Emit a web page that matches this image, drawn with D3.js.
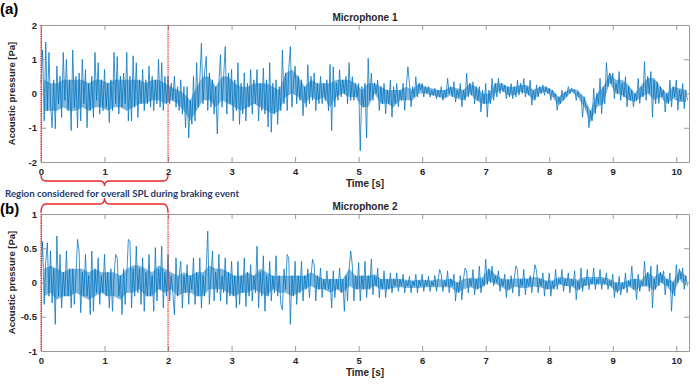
<!DOCTYPE html>
<html><head><meta charset="utf-8">
<script src="https://cdn.jsdelivr.net/npm/d3@7"></script>
<style>
html,body{margin:0;padding:0;background:#fff;}
svg{display:block;}
</style></head>
<body>
<svg id="chart" width="698" height="386"></svg>
<script>
// ---------------- DATA ----------------
const sampleStep = 0.025; // seconds between listed signal values
const bandStep = 0.1;     // seconds between listed dense-core band values
const mic1Values = [
 0.3,1.27,-0.8,1.5, -0.5,1.2,-0.3,-1.0, 0.4,-1.03,0.8,-0.3, 0.5,-0.7,1.2,-0.2, 1.0,-0.5,0.4,-1.08,
 1.27,-0.4,0.5,-1.0, 0.6,-0.8,1.0,-0.3, 0.7,-1.0,0.3,-0.5, 0.5,-0.7,1.2,-0.2, 0.9,-0.6,0.4,-0.5,
 0.7,-0.4,0.3,-0.85, 0.4,-0.5,1.2,-0.3, 1.08,-0.6,0.5,-0.4, 0.6,-0.3,1.2,-0.8, 0.5,-0.8,1.1,-0.4,
 0.9,-0.7,0.4,-0.3, 0.7,-0.5,0.4,-0.3, 0.8,-0.4,0.5,-0.5, 0.4,-0.3,1.0,-0.4, 0.9,-0.5,0.5,-0.3,
 0.5,-0.3,0.3,-0.2, 0.5,-0.4,0.2,-0.5, 0.4,-0.6,0.2,-1.0, 0.2,-1.3,-0.2,-0.9, 0.5,-0.8,0.9,-0.4,
 0.4,1.47,-0.3,0.6, 1.08,-0.5,0.6,-0.4, 0.4,-0.6,0.2,-1.18, 0.3,1.13,-0.4,0.5, 1.37,-0.6,0.6,-0.3,
 0.7,-0.8,0.4,-0.5, 0.9,-0.9,0.3,-0.6, 0.6,-0.8,0.3,-0.4, 0.7,-0.6,0.4,-0.3, 0.7,-0.8,0.3,-0.5,
 0.74,-0.6,0.4,-0.98, 0.9,-1.13,0.3,-0.6, 0.4,-0.9,0.2,-0.5, 1.27,-0.3,0.6,-0.5, 0.7,1.37,-0.4,0.3,
 0.8,-0.3,0.5,-0.2, 0.4,-0.65,0.2,-0.4, 0.84,-0.3,0.5,-0.2, 0.6,-0.5,0.3,-0.3, 0.5,-0.3,0.3,-0.2,
 0.4,-0.5,0.85,-1.08, 0.78,-0.4,0.3,-0.2, 0.69,-0.1,0.4,0.0, 0.5,-0.3,0.9,-0.2, 0.49,-0.2,0.3,-0.1,
 0.29,-1.67,0.2,-0.4, 0.3,-1.3,1.03,-0.2, 0.59,-0.2,0.3,0.0, 0.39,-0.5,0.2,-0.3, 0.29,-0.59,0.1,-0.3,
 0.39,-0.69,0.2,-0.3, 0.29,-0.39,0.1,-0.2, 0.3,-0.49,0.2,0.78, 0.29,-0.39,0.2,-0.1, 0.49,-0.1,0.3,0.1,
 0.29,-0.1,0.2,0.0, 0.2,-0.1,0.1,-0.05, 0.15,-0.15,0.1,-0.1, 0.2,-0.2,0.1,-0.1, 0.44,0.0,0.2,-0.1,
 0.34,-0.25,0.1,-0.1, 0.29,-0.39,0.1,-0.2, 0.59,-0.1,0.3,-0.05, 0.34,-0.3,0.2,-0.2, 0.2,-0.54,0.1,-0.3,
 0.29,-0.69,0.1,-0.3, 0.44,-0.2,0.3,-0.1, 0.44,0.0,0.3,0.05, 0.25,-0.15,0.2,-0.1, 0.29,-0.15,0.2,-0.1,
 0.39,-0.05,0.3,0.0, 0.44,-0.1,0.2,-0.05, 0.39,-0.34,0.1,-0.2, 0.25,-0.1,0.2,0.0, 0.25,-0.05,0.2,0.0,
 0.15,-0.2,0.1,-0.1, 0.0,-0.49,-0.1,-0.3, 0.1,-0.2,0.05,-0.1, 0.2,0.0,0.15,0.05, 0.1,-0.2,0.05,-0.1,
 -0.05,-0.69,-0.1,-0.4, -0.39,-1.0,-0.5,-0.8, 0.15,-0.59,0.0,-0.3, 0.44,-0.59,0.2,-0.3, 0.9,0.2,0.6,0.3,
 0.59,-0.15,0.3,0.0, 0.64,-0.2,0.3,-0.1, 0.49,-0.39,0.2,-0.2, 0.1,-0.39,0.0,-0.2, 0.44,-0.29,0.2,-0.1,
 0.93,-0.2,0.5,0.0, 0.64,-0.69,0.4,-0.3, 0.34,-0.29,0.2,-0.1, 0.1,-0.54,0.0,-0.3, 0.39,-0.39,0.2,-0.1,
 0.39,-0.49,0.1,-0.2, 0.29,-0.44,0.1,-0.2
];
const mic1CoreHi = [
 0.4,0.3,0.3,0.4,0.4,0.4,0.4,0.3,0.4,0.4, 0.3,0.4,0.4,0.4,0.4,0.4,0.3,0.4,0.4,0.3,
 0.2,0.1,0.0,-0.2,0.2,0.5,0.5,0.2,0.5,0.5, 0.3,0.2,0.2,0.3,0.3,0.3,0.2,0.1,0.6,0.7,
 0.5,0.2,0.4,0.3,0.3,0.3,0.4,0.4,0.4,0.3, 0.1,0.3,0.3,0.2,0.1,0.1,0.1,0.2,0.1,0.3,
 0.2,0.15,0.1,0.1,0.2,0.15,0.1,0.3,0.2,0.0, 0.0,0.3,0.3,0.2,0.2,0.25,0.25,0.1,0.2,0.2,
 0.1,-0.1,0.05,0.15,0.1,-0.1,-0.5,0.0,0.2,0.6, 0.4,0.4,0.25,0.0,0.25,0.45,0.45,0.2,0.0,0.2,
 0.15,0.1
];
const mic1CoreLo = [
 -0.5,-0.5,-0.5,-0.4,-0.5,-0.5,-0.4,-0.5,-0.4,-0.4, -0.5,-0.4,-0.4,-0.5,-0.4,-0.3,-0.3,-0.2,-0.2,-0.3,
 -0.2,-0.3,-0.5,-0.8,-0.5,-0.2,-0.2,-0.4,-0.2,-0.3, -0.4,-0.5,-0.4,-0.3,-0.4,-0.5,-0.6,-0.5,-0.1,0.0,
 -0.1,-0.3,-0.1,-0.2,-0.1,-0.4,-0.1,0.0,-0.1,-0.1, -0.4,-0.4,0.0,-0.3,-0.3,-0.4,-0.2,-0.2,-0.2,0.0,
 0.0,-0.05,-0.1,-0.15,-0.05,-0.15,-0.2,0.0,-0.2,-0.3, -0.3,0.0,0.1,-0.05,-0.05,0.05,0.0,-0.2,0.0,0.05,
 -0.1,-0.35,-0.15,0.05,-0.1,-0.4,-0.85,-0.4,-0.3,0.3, 0.0,-0.05,-0.2,-0.25,-0.1,0.0,-0.2,-0.1,-0.3,-0.15,
 -0.25,-0.25
];
const mic2Values = [
 0.1,0.6,-0.32,0.3, 0.58,-0.2,0.46,-0.3, 0.2,-0.61,0.68,-0.2, 0.41,-0.37,0.15,-0.2, 0.46,-0.2,0.2,-0.37,
 0.2,-0.32,0.1,0.63, 0.46,-0.44,0.15,-0.2, 0.41,-0.2,0.1,-0.47, 0.46,-0.42,0.2,-0.15, 0.36,-0.32,0.1,-0.15,
 0.41,-0.2,0.15,-0.37, 0.2,-0.42,0.1,0.41, 0.36,-0.2,0.1,-0.47, 0.2,-0.32,0.1,0.63, 0.6,-0.37,0.2,-0.2,
 0.53,-0.15,0.2,-0.32, 0.36,-0.42,0.15,-0.2, 0.41,-0.2,0.1,-0.42, 0.51,-0.27,0.2,-0.1, 0.53,-0.37,0.15,-0.2,
 0.41,-0.27,0.1,-0.15, -0.47,0.36,-0.2,0.1, 0.31,-0.37,0.1,-0.15, 0.26,-0.32,0.1,-0.1, 0.36,-0.32,0.15,-0.2,
 0.36,-0.37,0.1,-0.2, 0.2,0.75,-0.32,0.1, 0.46,-0.27,0.15,-0.15, 0.41,-0.27,0.1,-0.15, 0.36,-0.32,0.15,-0.2,
 0.31,-0.2,0.1,-0.37, 0.31,-0.32,0.1,-0.15, 0.36,-0.35,0.15,-0.2, 0.26,-0.27,0.1,-0.15, 0.53,-0.37,0.15,-0.2,
 0.39,-0.42,0.1,-0.2, 0.31,-0.27,0.1,-0.15, 0.39,-0.2,0.1,-0.32, -0.4,0.2,-0.1,0.41, 0.36,-0.61,0.1,-0.2,
 0.31,-0.32,0.1,-0.15, 0.31,-0.27,0.1,-0.1, 0.2,-0.22,0.1,0.34, 0.26,-0.27,0.1,-0.1, 0.21,-0.22,0.05,-0.1,
 0.17,-0.1,0.05,-0.37, 0.17,-0.22,0.05,-0.1, 0.21,-0.15,0.05,-0.42, 0.1,-0.27,0.2,0.46, 0.26,-0.27,0.1,-0.1,
 0.29,-0.27,0.1,-0.1, 0.31,-0.22,0.1,-0.1, 0.34,-0.18,0.1,-0.05, 0.21,-0.22,0.05,-0.1, 0.17,-0.22,0.05,-0.1,
 0.14,-0.15,0.05,-0.05, 0.14,-0.13,0.05,-0.05, 0.12,-0.15,0.02,-0.05, 0.09,-0.15,0.02,-0.05, 0.12,-0.15,0.03,-0.05,
 0.12,-0.13,0.03,-0.05, 0.09,-0.13,0.02,-0.05, 0.1,-0.13,0.03,0.19, 0.12,-0.13,0.03,-0.05, 0.17,-0.15,0.05,-0.05,
 0.12,-0.27,0.0,-0.15, 0.1,-0.25,0.05,0.21, 0.17,-0.15,0.05,-0.05, 0.19,-0.18,0.05,-0.1, 0.24,-0.15,0.05,-0.05,
 0.34,-0.03,0.2,0.0, 0.24,-0.05,0.1,0.0, 0.17,-0.13,0.05,-0.05, 0.12,-0.22,0.05,-0.1, 0.1,-0.15,0.05,0.24,
 0.19,-0.2,0.05,-0.05, 0.19,-0.18,0.05,-0.05, 0.1,-0.15,0.05,0.26, 0.17,-0.15,0.05,-0.05, 0.14,-0.2,0.02,-0.1,
 0.14,-0.2,0.02,-0.1, 0.19,-0.1,0.05,-0.02, 0.19,-0.13,0.05,-0.05, 0.14,-0.15,0.05,-0.05, 0.17,-0.25,0.02,-0.1,
 0.21,-0.13,0.05,-0.05, 0.19,-0.1,0.05,-0.02, 0.21,-0.1,0.05,-0.02, 0.19,-0.1,0.05,-0.02, 0.14,-0.1,0.03,-0.05,
 0.12,-0.22,0.0,-0.15, 0.09,-0.18,0.0,-0.1, 0.14,-0.15,0.02,-0.05, 0.24,-0.1,0.05,-0.25, 0.12,-0.13,0.02,-0.05,
 0.31,-0.05,0.15,-0.13, 0.24,-0.37,0.05,-0.1, 0.26,-0.05,0.15,0.0, 0.17,-0.18,0.05,-0.05, 0.14,-0.42,0.0,-0.2,
 0.26,0.0,0.2,0.05, 0.21,-0.1,0.1,-0.05
];
const mic2CoreHi = [
 0.2,0.25,0.2,0.15,0.2,0.2,0.2,0.15,0.2,0.15, 0.15,0.15,0.1,0.2,0.25,0.25,0.2,0.15,0.25,0.2,
 0.15,0.1,0.15,0.1,0.15,0.15,0.25,0.2,0.2,0.15, 0.1,0.1,0.15,0.1,0.2,0.15,0.1,0.1,0.1,0.1,
 0.1,0.1,0.15,0.1,0.05,0.05,0.05,0.05,0.2,0.1, 0.1,0.1,0.12,0.05,0.05,0.06,0.05,0.04,0.03,0.04,
 0.04,0.03,0.05,0.04,0.06,0.0,0.05,0.07,0.06,0.08, 0.2,0.12,0.06,0.04,0.06,0.06,0.06,0.08,0.07,0.03,
 0.03,0.08,0.07,0.06,0.04,0.08,0.08,0.08,0.08,0.05, 0.0,0.0,0.04,0.06,0.04,0.15,0.08,0.15,0.06,0.02,
 0.18,0.1
];
const mic2CoreLo = [
 -0.2,-0.15,-0.25,-0.2,-0.2,-0.15,-0.2,-0.25,-0.2,-0.15, -0.2,-0.2,-0.25,-0.15,-0.15,-0.1,-0.2,-0.2,-0.1,-0.15,
 -0.1,-0.2,-0.15,-0.15,-0.2,-0.2,-0.1,-0.1,-0.1,-0.15, -0.2,-0.15,-0.15,-0.1,-0.15,-0.2,-0.1,-0.15,-0.15,-0.2,
 -0.15,-0.1,-0.05,-0.1,-0.1,-0.15,-0.1,-0.15,-0.05,-0.1, -0.1,-0.1,-0.05,-0.1,-0.1,-0.08,-0.07,-0.08,-0.08,-0.08,
 -0.07,-0.07,-0.07,-0.07,-0.07,-0.15,-0.1,-0.07,-0.1,-0.07, 0.02,-0.02,-0.07,-0.12,-0.06,-0.08,-0.08,-0.06,-0.07,-0.1,
 -0.1,-0.03,-0.05,-0.06,-0.12,-0.05,-0.03,-0.03,-0.03,-0.05, -0.14,-0.1,-0.06,-0.12,-0.06,-0.06,-0.12,0.0,-0.06,-0.18,
 0.04,-0.05
];
const timeDomain = [0, 10.2];
const timeTicks = [0,1,2,3,4,5,6,7,8,9,10];
const mic1Domain = [-2, 2];
const mic1Ticks = [-2,-1,0,1,2];
const mic2Domain = [-1, 1];
const mic2Ticks = [-1,-0.5,0,0.5,1];
const regionMarkers = [0, 2];
const panelTitles = ["Microphone 1", "Microphone 2"];
const panelLetters = ["(a)", "(b)"];
const xLabel = "Time [s]";
const yLabel = "Acoustic pressure [Pa]";
const regionNote = "Region considered for overall SPL during braking event";

// ---------------- DRAW ----------------
const svg = d3.select("#chart");
const left = 41, right = 689;
const panels = [
  {values: mic1Values, hi: mic1CoreHi, lo: mic1CoreLo, domain: mic1Domain, ticks: mic1Ticks, top: 25, bottom: 162, title: panelTitles[0], letter: panelLetters[0], letterY: 14},
  {values: mic2Values, hi: mic2CoreHi, lo: mic2CoreLo, domain: mic2Domain, ticks: mic2Ticks, top: 214, bottom: 351, title: panelTitles[1], letter: panelLetters[1], letterY: 214}
];
const axisColor = "#9a9a9a";
const textColor = "#262626";
const tickFont = "'Liberation Sans', Arial, sans-serif";

const x = d3.scaleLinear().domain(timeDomain).range([left, right]);

panels.forEach((p, pi) => {
  const y = d3.scaleLinear().domain(p.domain).range([p.bottom, p.top]);
  const g = svg.append("g");

  // dense core of the signal
  const band = p.hi.map((h, i) => ({t: (i + 0.5) * bandStep, hi: h, lo: p.lo[i]}));
  g.append("path").datum(band)
    .attr("d", d3.area().x(d => x(d.t)).y0(d => y(d.lo)).y1(d => y(d.hi)).curve(d3.curveLinear))
    .attr("fill", "#0072BD").attr("opacity", 0.5);

  // signal trace
  const line = d3.line().x((d, i) => x(i * sampleStep)).y(d => y(d));
  g.append("path").datum(p.values)
    .attr("d", line)
    .attr("fill", "none")
    .attr("stroke", "#0072BD")
    .attr("stroke-opacity", 0.85)
    .attr("stroke-width", 0.9)
    .attr("stroke-linejoin", "miter");

  // axes
  const ax = (gen, tr, labels) => {
    const a = g.append("g").attr("transform", tr).call(gen);
    a.select(".domain").attr("stroke", axisColor).attr("stroke-width", 1);
    a.selectAll(".tick line").attr("stroke", axisColor);
    a.selectAll("text").attr("fill", textColor).attr("font-family", tickFont)
      .attr("font-size", "9.5px").attr("font-weight", "bold");
    if (!labels) a.selectAll("text").remove();
    return a;
  };
  const fmt = d => String(d);
  ax(d3.axisBottom(x).tickValues(timeTicks).tickSize(-5).tickSizeOuter(0).tickPadding(6).tickFormat(fmt), `translate(0,${p.bottom})`, true);
  ax(d3.axisTop(x).tickValues(timeTicks).tickSize(-5).tickSizeOuter(0), `translate(0,${p.top})`, false);
  ax(d3.axisLeft(y).tickValues(p.ticks).tickSize(-5).tickSizeOuter(0).tickPadding(4).tickFormat(fmt), `translate(${left},0)`, true);
  ax(d3.axisRight(y).tickValues(p.ticks).tickSize(-5).tickSizeOuter(0), `translate(${right},0)`, false);

  // region markers
  g.selectAll(".marker").data(regionMarkers).enter().append("line")
    .attr("x1", d => x(d)).attr("x2", d => x(d))
    .attr("y1", p.top).attr("y2", p.bottom)
    .attr("stroke", "#e8262a").attr("stroke-width", 1.3)
    .attr("stroke-dasharray", "1.2,1");

  // titles
  g.append("text").attr("x", (left + right) / 2).attr("y", p.top - 4)
    .attr("text-anchor", "middle").attr("font-family", tickFont)
    .attr("font-size", "10px").attr("font-weight", "bold").attr("fill", textColor)
    .text(p.title);
  g.append("text").attr("x", (left + right) / 2).attr("y", p.bottom + 25)
    .attr("text-anchor", "middle").attr("font-family", tickFont)
    .attr("font-size", "10px").attr("font-weight", "bold").attr("fill", textColor)
    .text(xLabel);
  g.append("text")
    .attr("transform", `translate(15,${(p.top + p.bottom) / 2}) rotate(-90)`)
    .attr("text-anchor", "middle").attr("font-family", tickFont)
    .attr("font-size", "9.5px").attr("font-weight", "bold").attr("fill", textColor)
    .text(yLabel);
  svg.append("text").attr("x", 0).attr("y", p.letterY)
    .attr("font-family", tickFont).attr("font-size", "15px").attr("font-weight", "bold")
    .attr("fill", "#000").text(p.letter);
});

// braces
const bx0 = x(regionMarkers[0]), bx1 = x(regionMarkers[1]), bxm = (bx0 + bx1) / 2;
const r = 5;
const topBrace = `M${bx0},175 Q${bx0},181 ${bx0 + r},181 L${bxm - r},181 Q${bxm},181 ${bxm},186 Q${bxm},181 ${bxm + r},181 L${bx1 - r},181 Q${bx1},181 ${bx1},175`;
const botBrace = `M${bx0},213 Q${bx0},204 ${bx0 + r},204 L${bxm - r},204 Q${bxm},204 ${bxm},198 Q${bxm},204 ${bxm + r},204 L${bx1 - r},204 Q${bx1},204 ${bx1},213`;
[topBrace, botBrace].forEach(dd => svg.append("path").attr("d", dd)
  .attr("fill", "none").attr("stroke", "#e8262a").attr("stroke-width", 1.3));

svg.append("text").attr("x", 5).attr("y", 197)
  .attr("font-family", "Lato, 'Open Sans', sans-serif").attr("font-size", "10px")
  .attr("font-weight", "bold").attr("fill", "#1f3a6e")
  .attr("textLength", 234).attr("lengthAdjust", "spacingAndGlyphs")
  .text(regionNote);
</script>
</body></html>
